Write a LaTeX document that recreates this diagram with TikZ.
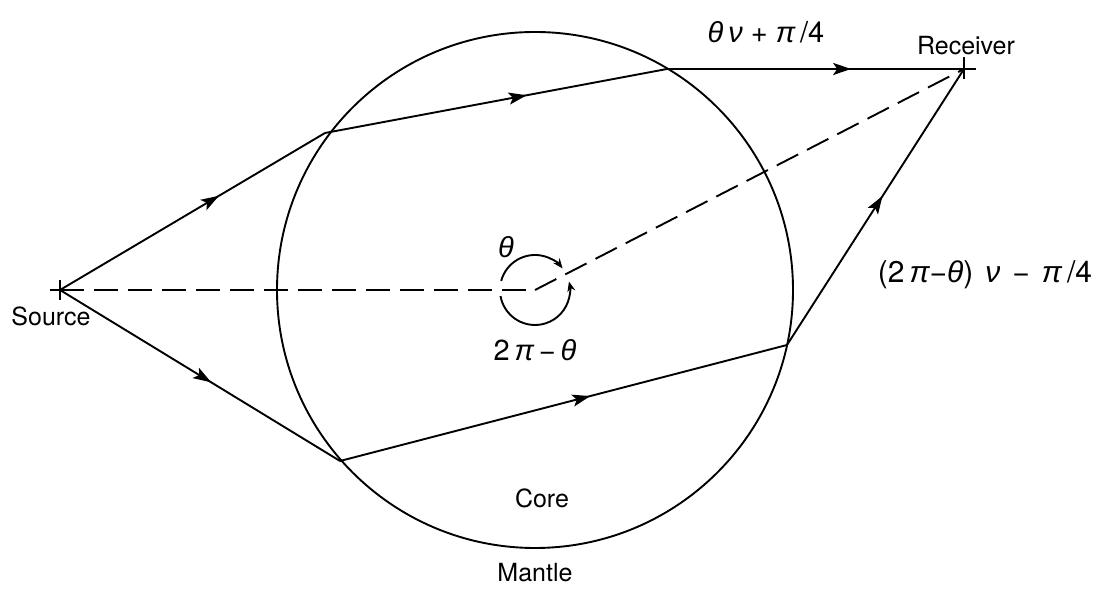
\documentclass[tikz,border=0pt]{standalone}
\usepackage{fontspec}
\setmainfont{TeX Gyre Heros}
\newfontfamily\gkfont{Liberation Sans}
\newcommand{\gki}[1]{{\gkfont\itshape #1}}
\usetikzlibrary{arrows.meta,decorations.markings,calc}
\tikzset{
  ray/.style={line width=1.9pt},
  midarrow/.style={postaction={decorate},decoration={markings,
     mark=at position #1 with {\arrow{Stealth[length=18pt,width=12pt,inset=4pt]}}}},
  dashline/.style={line width=1.9pt,dash pattern=on 24pt off 10pt},
  lbl/.style={font=\fontsize{25}{30}\selectfont,inner sep=0pt},
  mlbl/.style={font=\fontsize{29}{34}\selectfont,inner sep=0pt},
  widelbl/.style={font=\fontsize{30}{34}\selectfont,inner sep=0pt}
}
\tikzset{angarc/.style={line width=1.9pt,-{Stealth[length=10pt,width=8pt]}}}
\begin{document}
\begin{tikzpicture}[x=1pt,y=1pt]
\useasboundingbox (0,0) rectangle (1119,593);
\coordinate (O) at (535,303);
\coordinate (S) at (60,303);
\coordinate (R) at (964,524);
\coordinate (A) at (325,460);
\coordinate (B) at (667,524);
\coordinate (C) at (340,132);
\coordinate (D) at (787,248);
% circle
\draw[line width=1.9pt] (O) circle[radius=258];
% crosses
\draw[line width=1.9pt] ($(S)+(-10,0)$) -- ($(S)+(10,0)$) ($(S)+(0,-10)$) -- ($(S)+(0,10)$);
\draw[line width=1.9pt] ($(R)+(-12,0)$) -- ($(R)+(12,0)$) ($(R)+(0,-10)$) -- ($(R)+(0,12)$);
% rays
\draw[ray,midarrow=0.6] (S) -- (A);
\draw[ray,midarrow=0.59] (A) -- (B);
\draw[ray,midarrow=0.62] (B) -- (R);
\draw[ray,midarrow=0.54] (S) -- (C);
\draw[ray,midarrow=0.56] (C) -- (D);
\draw[ray,midarrow=0.54] (D) -- (R);
% dashed radii
\draw[dashline] (S) -- (O);
\draw[dashline] (O) -- (R);
% angle arcs
\draw[angarc] ($(O)+(165:35)$) arc[start angle=165, end angle=38, radius=35];
\draw[angarc] ($(O)+(190:35)$) arc[start angle=190, end angle=374, radius=35];
% labels
\node[mlbl] (th) at (506,346) {\gki{θ}};
\node[mlbl] (tpi) at (535,243) {2\,\gki{π}\,−\,\gki{θ}};
\node[mlbl] (l1) at (766,561) {\gki{θ}\,\gki{ν} + \gki{π}\,/4};
\node[lbl] (rec) at (966,547) {Receiver};
\node[widelbl] (l2) at (985,318) {\spaceskip=12pt\relax (2\,\gki{π}−\gki{θ}) \gki{ν} − \gki{π}\,/4};
\node[lbl] (src) at (51,277) {Source};
\node[lbl] (core) at (542,95) {Core};
\node[lbl] (mantle) at (535,20) {Mantle};
\end{tikzpicture}
\end{document}
